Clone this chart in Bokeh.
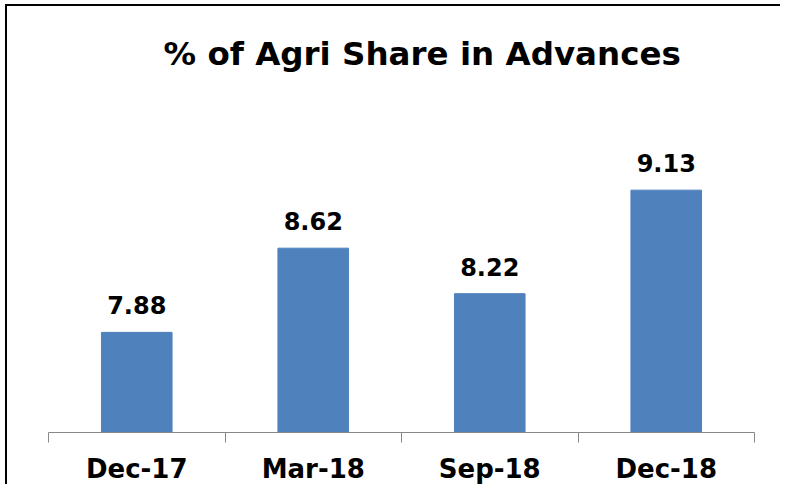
from bokeh.plotting import figure
from bokeh.models import ColumnDataSource, Range1d, FixedTicker, LabelSet, Title
from bokeh.core.properties import value
from bokeh.embed import file_html
from bokeh.resources import INLINE

categories = ["Dec-17", "Mar-18", "Sep-18", "Dec-18"]
values = [7.88, 8.62, 8.22, 9.13]
title_text = "% of Agri Share in Advances"

FONT = "DejaVu Sans"

xs = [i + 0.5 for i in range(len(categories))]
src = ColumnDataSource(dict(x=xs, top=values, label=[f"{v:.2f}" for v in values]))

p = figure(width=775, height=480, output_backend="svg", toolbar_location=None,
           x_range=Range1d(0, len(categories)), y_range=Range1d(7, 10.12),
           min_border_left=41, min_border_right=28, min_border_bottom=53,
           min_border_top=71)
p.styles = {"border-left": "2px solid black", "border-top": "2px solid black",
            "margin-left": "5px", "margin-top": "4px"}

t = Title(text=title_text, align="left", text_font=FONT, text_font_size="32.5px",
          text_font_style="bold", text_color="black", offset=115, standoff=10)
p.add_layout(t, "above")

p.vbar(x="x", top="top", bottom=7, width=0.4, source=src, color="#4F81BD")

labels = LabelSet(x="x", y="top", text="label", source=src, text_align="center",
                  text_baseline="bottom", y_offset=18, text_font=value(FONT),
                  text_font_size=value("24px"), text_font_style="bold", text_color="black")
p.add_layout(labels)

p.yaxis.visible = False
p.xgrid.visible = False
p.ygrid.visible = False
p.outline_line_color = None

ax = p.xaxis[0]
ax.ticker = FixedTicker(ticks=xs, minor_ticks=list(range(len(categories) + 1)))
ax.major_label_overrides = {x: c for x, c in zip(xs, categories)}
ax.major_tick_line_color = None
ax.minor_tick_out = 10
ax.minor_tick_in = 0
ax.minor_tick_line_color = "#888888"
ax.axis_line_color = "#888888"
ax.major_label_text_font = FONT
ax.major_label_text_font_size = "26px"
ax.major_label_text_font_style = "bold"
ax.major_label_text_color = "black"
ax.major_label_standoff = 11

open("out.html", "w").write(file_html(p, INLINE))
